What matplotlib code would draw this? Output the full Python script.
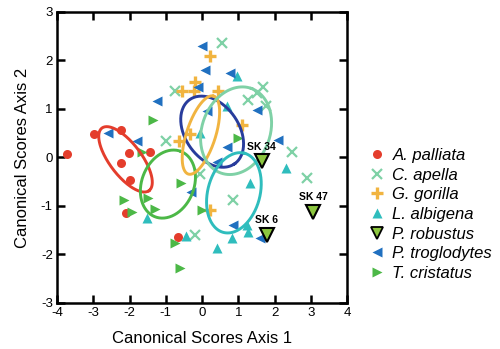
import numpy as np
import matplotlib
matplotlib.use("Agg")
import matplotlib.pyplot as plt
from matplotlib.lines import Line2D

plt.rcParams['font.family'] = ['Liberation Sans', 'DejaVu Sans']
plt.rcParams['axes.unicode_minus'] = False

# ---- data ----
palliata_x = [-3.72, -2.97, -2.23, -2.01, -2.23, -1.99, -1.43, -2.10, -0.65]
palliata_y = [0.08, 0.48, 0.57, 0.10, -0.11, -0.46, 0.12, -1.15, -1.65]

apella_x = [0.54, -0.745, -1.0, 1.69, 1.51, 1.28, 1.77, 2.47, 2.89, 0.86, -0.05, -0.19]
apella_y = [2.35, 1.36, 0.33, 1.45, 1.32, 1.19, 1.05, 0.12, -0.43, -0.88, -0.35, -1.60]

gorilla_x = [0.22, -0.19, -0.23, -0.56, 0.45, 1.09, -0.63, -0.33, 0.22]
gorilla_y = [2.08, 1.55, 1.36, 1.36, 1.36, 0.67, 0.33, 0.48, -1.08]

albigena_x = [0.96, 0.68, -0.05, 2.33, 1.32, 1.23, 1.27, 0.82, 0.40, -1.51, -0.44]
albigena_y = [1.67, 1.05, 0.50, -0.22, -0.53, -1.39, -1.53, -1.67, -1.87, -1.25, -1.62]

robustus_x = [1.65, 3.07, 1.79]
robustus_y = [-0.08, -1.12, -1.60]
robustus_lab = ["SK 34", "SK 47", "SK 6"]

trog_x = [-0.01, 0.08, 0.77, -0.12, -1.25, 1.51, 2.10, 0.68, 0.41, -0.30, 0.86, 1.60, -2.58, -1.80, 0.15]
trog_y = [2.30, 1.80, 1.74, 1.45, 1.17, 0.98, 0.36, 0.22, -0.09, -0.72, -1.39, -1.67, 0.51, 0.33, 0.95]

crist_x = [-1.36, -1.66, -2.15, -1.94, -1.48, -1.30, -0.58, -0.74, -0.61, 0.0, 0.98]
crist_y = [0.77, 0.12, -0.88, -1.12, -0.84, -1.07, -0.53, -1.77, -2.28, -1.08, 0.40]

# ellipses: center x, center y, semi-major (x-axis units), semi-minor (x-axis units), angle (deg, screen)
ell_names = ["palliata", "cristatus", "troglodytes", "gorilla", "apella", "albigena"]
ell_cx = [-2.11, -0.94, 0.28, -0.03, 0.94, 0.88]
ell_cy = [-0.04, -0.55, 0.53, 0.46, 0.55, -0.73]
ell_a = [1.08, 0.97, 1.08, 1.13, 1.24, 1.13]
ell_b = [0.44, 0.72, 0.74, 0.40, 0.94, 0.72]
ell_ang = [-53, 68, -55, 72, 70, 75]

c_red = "#e43d2c"
c_mint = "#7fd1a6"
c_orange = "#f1b440"
c_teal = "#2fbdbd"
c_rob = "#8cc63f"
c_blue = "#2070c0"
c_green = "#4cb847"
c_navy = "#283c9c"
ell_colors = [c_red, c_green, c_navy, c_orange, c_mint, c_teal]

fig = plt.figure(figsize=(5.0, 3.49), dpi=100)
ax = fig.add_axes([0.114, 0.132, 0.58, 0.834])
ax.set_xlim(-4, 4)
ax.set_ylim(-3, 3)

ms = 6.5
ax.plot(palliata_x, palliata_y, 'o', color=c_red, ms=ms, mec='none', zorder=3)
ax.plot(apella_x, apella_y, 'x', color=c_mint, ms=7, mew=1.6, zorder=3)
ax.plot(gorilla_x, gorilla_y, '+', color=c_orange, ms=8, mew=2.4, zorder=3)
ax.plot(albigena_x, albigena_y, '^', color=c_teal, ms=7.5, mec='none', zorder=3)
ax.plot(trog_x, trog_y, '<', color=c_blue, ms=7.5, mec='none', zorder=3)
ax.plot(crist_x, crist_y, '>', color=c_green, ms=7.5, mec='none', zorder=3)

# ellipses, computed in screen-proportional units
sx = 0.58 * 500 / 8.0   # px per x-unit
sy = 0.834 * 349 / 6.0  # px per y-unit
t = np.linspace(0, 2 * np.pi, 200)
for cx, cy, a, b, ang, col in zip(ell_cx, ell_cy, ell_a, ell_b, ell_ang, ell_colors):
    th = np.deg2rad(ang)
    ex = a * np.cos(t) * np.cos(th) - b * np.sin(t) * np.sin(th)
    ey = a * np.cos(t) * np.sin(th) + b * np.sin(t) * np.cos(th)
    ax.plot(cx + ex, cy + ey * sx / sy, '-', color=col, lw=2.1, zorder=4)

ax.plot(robustus_x, robustus_y, 'v', color=c_rob, ms=10, mec='black', mew=1.5, zorder=5)
for x, y, s in zip(robustus_x, robustus_y, robustus_lab):
    ax.text(x, y + 0.2, s, ha='center', va='bottom', fontsize=7.5, fontweight='bold', zorder=6)

ax.set_xticks(range(-4, 5))
ax.set_yticks(range(-3, 4))
ax.tick_params(direction='in', length=6, width=1.8, labelsize=9.5, top=True, right=True, pad=3)
for sp in ax.spines.values():
    sp.set_linewidth(1.8)
ax.set_xlabel("Canonical Scores Axis 1", fontsize=12, labelpad=8.5)
ax.set_ylabel("Canonical Scores Axis 2", fontsize=12, labelpad=7.5)

handles = [
    Line2D([], [], ls='none', marker='o', color=c_red, ms=ms, mec='none'),
    Line2D([], [], ls='none', marker='x', color=c_mint, ms=7, mew=1.6),
    Line2D([], [], ls='none', marker='+', color=c_orange, ms=8, mew=2.4),
    Line2D([], [], ls='none', marker='^', color=c_teal, ms=7.5, mec='none'),
    Line2D([], [], ls='none', marker='v', color=c_rob, ms=8, mec='black', mew=1.3),
    Line2D([], [], ls='none', marker='<', color=c_blue, ms=7.5, mec='none'),
    Line2D([], [], ls='none', marker='>', color=c_green, ms=7.5, mec='none'),
]
labels = ["A. palliata", "C. apella", "G. gorilla", "L. albigena",
          "P. robustus", "P. troglodytes", "T. cristatus"]
leg = fig.legend(handles, labels, loc='upper left', bbox_to_anchor=(0.723, 0.6),
                 frameon=False, fontsize=12, handlelength=0.9, handletextpad=0.45,
                 labelspacing=0.28, borderpad=0)
for txt in leg.get_texts():
    txt.set_fontstyle('italic')

fig.savefig("out.png", dpi=100)
